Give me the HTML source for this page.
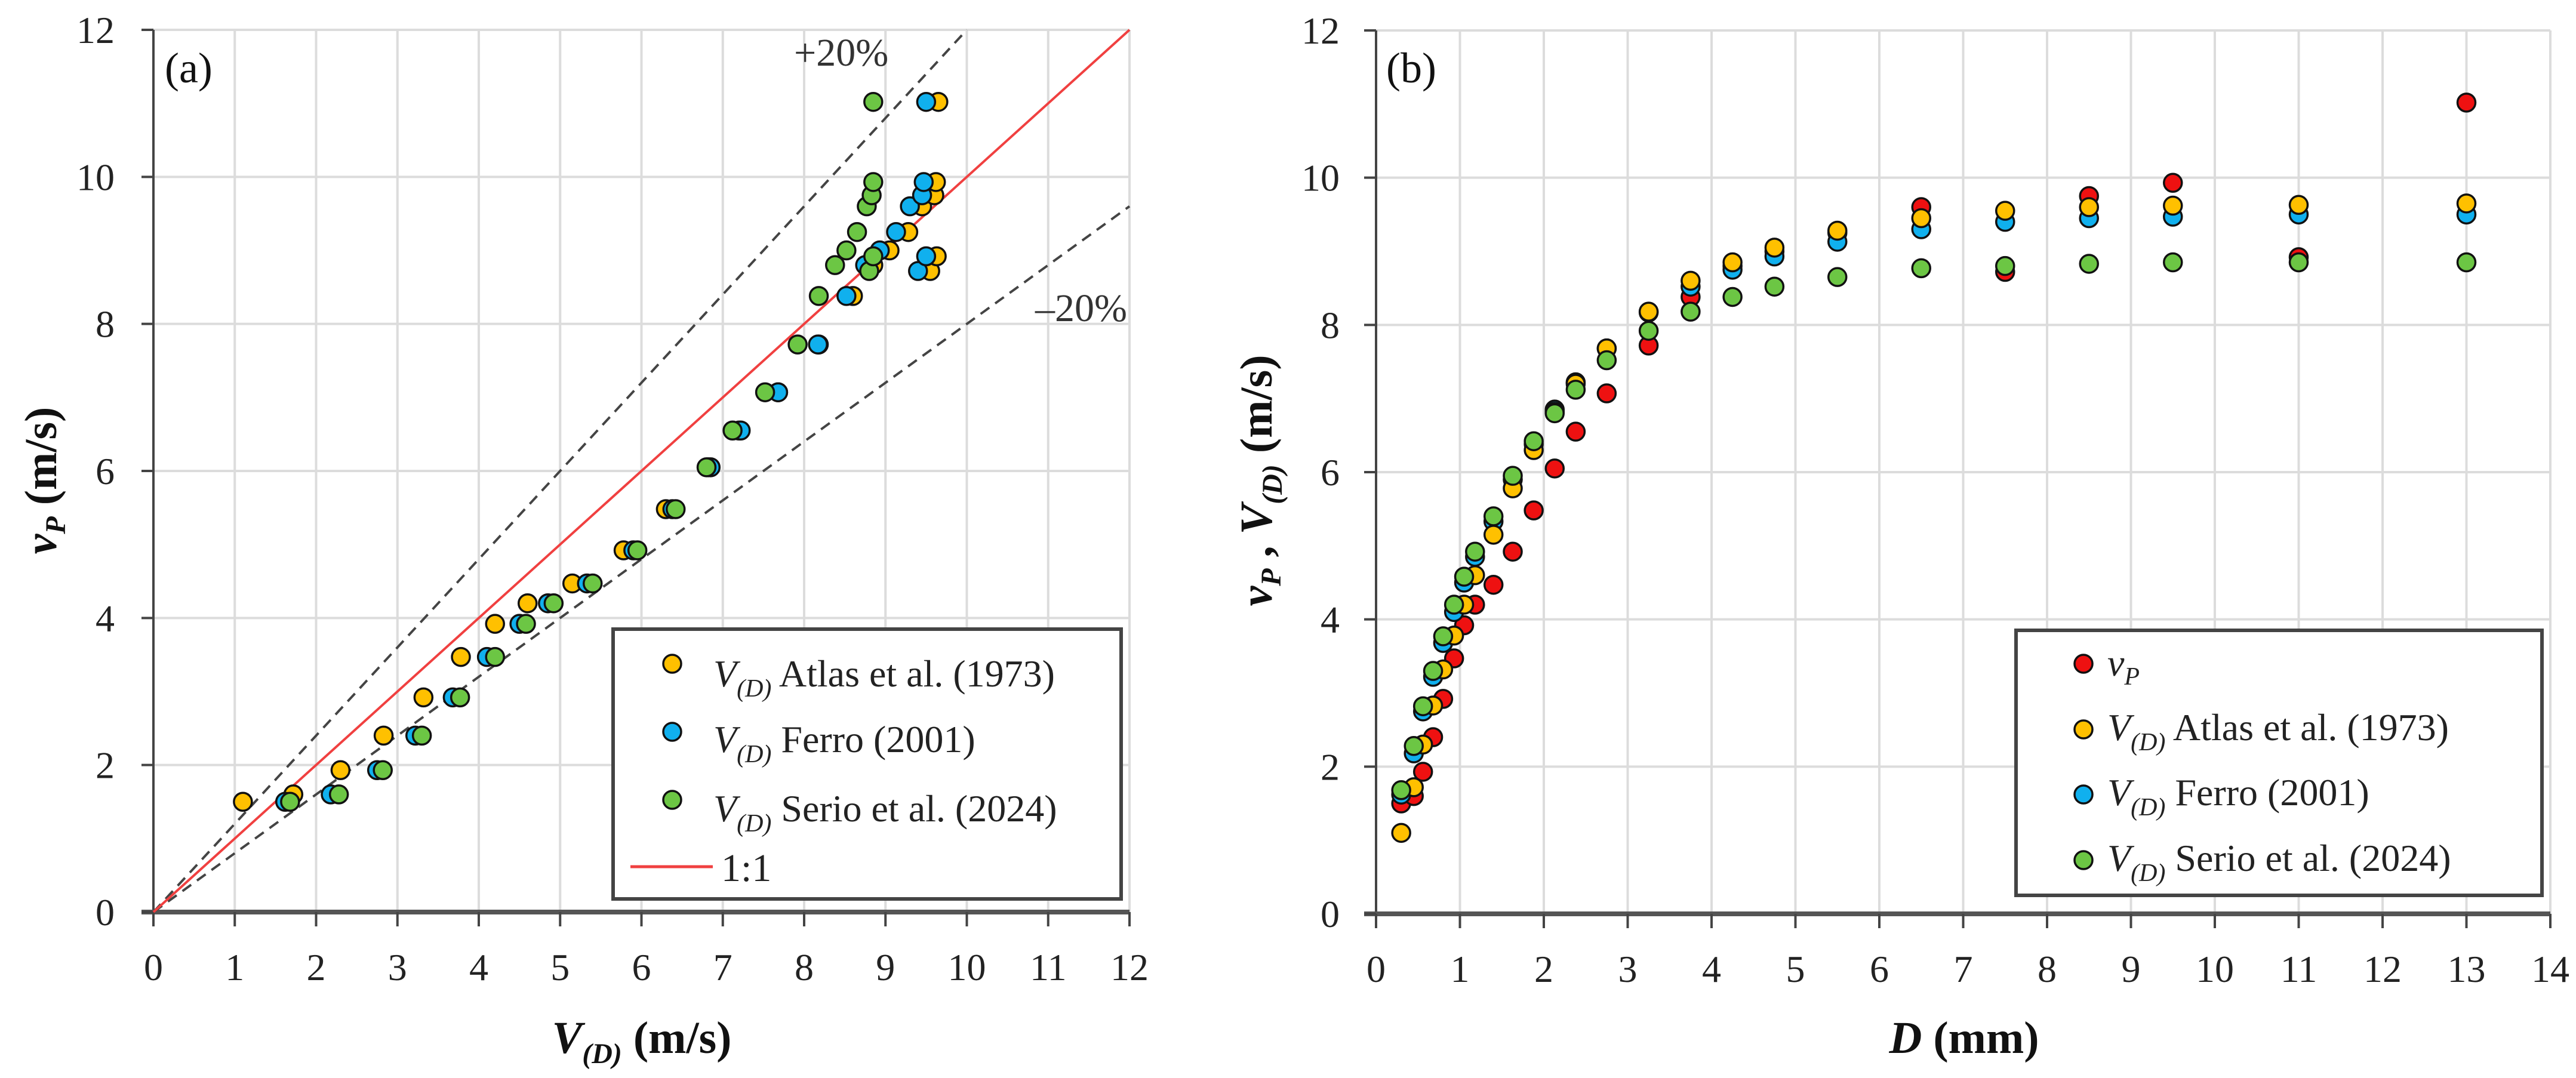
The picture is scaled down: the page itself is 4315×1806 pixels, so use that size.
<!DOCTYPE html>
<html><head><meta charset="utf-8"><style>
html,body{margin:0;padding:0;background:#fff}
svg{display:block;font-family:"Liberation Serif",serif}
</style></head><body>
<svg id="fig" width="4315" height="1806" viewBox="0 0 4315 1806" xmlns="http://www.w3.org/2000/svg">
<rect width="4315" height="1806" fill="#fff"/>
<g id="chartA"></g>
<g id="chartB"></g>
</svg>
<script>
const diameters=[0.3,0.45,0.56,0.68,0.8,0.93,1.05,1.18,1.4,1.63,1.88,2.13,2.38,2.75,3.25,3.75,4.25,4.75,5.5,6.5,7.5,8.5,9.5,11,13];
const vP=[1.5,1.6,1.93,2.4,2.92,3.47,3.92,4.2,4.47,4.92,5.48,6.05,6.55,7.07,7.72,8.38,8.8,9.0,9.25,9.6,8.72,9.75,9.93,8.92,11.02];
const atlas=[1.1,1.72,2.3,2.83,3.32,3.78,4.2,4.6,5.15,5.78,6.3,6.82,7.2,7.68,8.18,8.6,8.85,9.05,9.28,9.45,9.55,9.6,9.62,9.63,9.65];
const ferro=[1.62,2.18,2.75,3.22,3.68,4.1,4.5,4.85,5.33,5.9,6.38,6.85,7.22,7.68,8.17,8.52,8.75,8.93,9.13,9.3,9.4,9.45,9.47,9.5,9.5];
const serio=[1.68,2.28,2.82,3.3,3.77,4.2,4.58,4.92,5.4,5.95,6.42,6.8,7.12,7.52,7.92,8.18,8.38,8.52,8.65,8.77,8.8,8.83,8.85,8.85,8.85];
const ticksA_x=[0,1,2,3,4,5,6,7,8,9,10,11,12];
const ticksA_y=[0,2,4,6,8,10,12];
const ticksB_x=[0,1,2,3,4,5,6,7,8,9,10,11,12,13,14];
const ticksB_y=[0,2,4,6,8,10,12];
const bandFactors=[1.2,0.8];

const NS="http://www.w3.org/2000/svg";
const COL={red:"#ee1111",orange:"#ffc000",blue:"#10b0ee",green:"#6cc644"};
function mk(parent,tag,attrs,text){const e=document.createElementNS(NS,tag);for(const k in attrs)e.setAttribute(k,attrs[k]);if(text!==undefined)e.textContent=text;parent.appendChild(e);return e;}

function axes(g,x,y,xt,yt,xmax,ymax,lbl){
  xt.forEach(v=>{const l=mk(g,'line',{x1:x(v),x2:x(v),y1:y(0),y2:y(ymax),stroke:'#dcdcdc','stroke-width':4});
    
    });
  yt.forEach(v=>{const l=mk(g,'line',{x1:x(0),x2:x(xmax),y1:y(v),y2:y(v),stroke:'#dcdcdc','stroke-width':4});
    
    });
  const ya=mk(g,'line',{x1:x(0),x2:x(0),y1:y(0)+4,y2:y(ymax),stroke:'#444','stroke-width':4});
  
  
  const xa=mk(g,'line',{x1:x(0)-20,x2:x(xmax),y1:y(0),y2:y(0),stroke:'#555','stroke-width':8});
  
  
  xt.forEach(v=>{mk(g,'line',{x1:x(v),x2:x(v),y1:y(0),y2:y(0)+24,stroke:'#444','stroke-width':4});
    const t=mk(g,'text',{x:x(v),y:y(0)+114,'text-anchor':'middle','font-size':64,fill:'#222'},v);
    
    });
  yt.forEach(v=>{mk(g,'line',{x1:x(0)-20,x2:x(0),y1:y(v),y2:y(v),stroke:'#444','stroke-width':4});
    const t=mk(g,'text',{x:lbl,y:y(v)+22,'text-anchor':'end','font-size':64,fill:'#222'},v);
    
    });
}
function dot(g,cx,cy,c,name){const d=mk(g,'circle',{cx:cx,cy:cy,r:15,fill:c,stroke:'#111','stroke-width':3.5});
  
  return d;}

// Chart A
(function(){
const g=document.getElementById('chartA');
const X0=257,X1=1892,Y0=1528,Y1=50;
const x=v=>X0+(X1-X0)*v/12, y=v=>Y0-(Y0-Y1)*v/12;
axes(g,x,y,ticksA_x,ticksA_y,12,12,192);
bandFactors.forEach(f=>{let xe=12,ye=12*f;if(ye>12){ye=12;xe=12/f;}
  const l=mk(g,'line',{x1:x(0),y1:y(0),x2:x(xe),y2:y(ye),stroke:'#444','stroke-width':4,'stroke-dasharray':'18 12'});
  
  });
const one=mk(g,'line',{x1:x(0),y1:y(0),x2:x(12),y2:y(12),stroke:'#f04040','stroke-width':4});


const series=[[atlas,COL.orange,'atlas-point'],[ferro,COL.blue,'ferro-point'],[serio,COL.green,'serio-point']];
series.forEach(s=>s[0].forEach((v,i)=>dot(g,x(v),y(vP[i]),s[1],s[2])));
})();

// Chart B
(function(){
const g=document.getElementById('chartB');
const X0=2305,X1=4272,Y0=1531,Y1=51;
const x=v=>X0+(X1-X0)*v/14, y=v=>Y0-(Y0-Y1)*v/12;
axes(g,x,y,ticksB_x,ticksB_y,14,12,2244);
const series=[[vP,COL.red,'vp-point'],[ferro,COL.blue,'ferro-point'],[atlas,COL.orange,'atlas-point'],[serio,COL.green,'serio-point']];
series.forEach(s=>s[0].forEach((v,i)=>dot(g,x(diameters[i]),y(v),s[1],s[2])));
})();
</script>
<svg style="position:absolute;left:0;top:0" width="4315" height="1806" viewBox="0 0 4315 1806" xmlns="http://www.w3.org/2000/svg" font-family="Liberation Serif, serif">
<text x="276" y="138" font-size="72" fill="#111">(a)</text>
<text x="2322" y="138" font-size="72" fill="#111">(b)</text>
<text x="1330" y="110" font-size="66" fill="#333">+20%</text>
<text x="1888" y="538" font-size="66" fill="#333" text-anchor="end">–20%</text>
<text transform="translate(94,805) rotate(-90)" text-anchor="middle" font-size="76" font-weight="bold" fill="#111"><tspan font-style="italic">v</tspan><tspan font-size="48" font-style="italic" dy="15">P</tspan><tspan dy="-15"> (m/s)</tspan></text>
<text x="1075" y="1764" text-anchor="middle" font-size="76" font-weight="bold" fill="#111"><tspan font-style="italic">V</tspan><tspan font-size="48" font-style="italic" dy="17">(D)</tspan><tspan dy="-17"> (m/s)</tspan></text>
<text transform="translate(2130,805) rotate(-90)" text-anchor="middle" font-size="76" font-weight="bold" fill="#111"><tspan font-style="italic">v</tspan><tspan font-size="48" font-style="italic" dy="15">P</tspan><tspan dy="-15"> , </tspan><tspan font-style="italic">V</tspan><tspan font-size="48" font-style="italic" dy="17">(D)</tspan><tspan dy="-17"> (m/s)</tspan></text>
<text x="3290" y="1764" text-anchor="middle" font-size="76" font-weight="bold" fill="#111"><tspan font-style="italic">D</tspan> (mm)</text>
<g>
<rect x="1027" y="1054" width="851" height="452" fill="#fff" stroke="#444" stroke-width="6"/>
<g><circle cx="1126" cy="1112" r="15" fill="#ffc000" stroke="#111" stroke-width="3.5"/><text x="1195" y="1150" font-size="64" fill="#222"><tspan font-style="italic">V</tspan><tspan font-size="42" font-style="italic" dy="17">(D)</tspan><tspan dy="-17"> Atlas et al. (1973)</tspan></text></g>
<g><circle cx="1126" cy="1226" r="15" fill="#10b0ee" stroke="#111" stroke-width="3.5"/><text x="1195" y="1260" font-size="64" fill="#222"><tspan font-style="italic">V</tspan><tspan font-size="42" font-style="italic" dy="17">(D)</tspan><tspan dy="-17"> Ferro (2001)</tspan></text></g>
<g><circle cx="1126" cy="1340" r="15" fill="#6cc644" stroke="#111" stroke-width="3.5"/><text x="1195" y="1376" font-size="64" fill="#222"><tspan font-style="italic">V</tspan><tspan font-size="42" font-style="italic" dy="17">(D)</tspan><tspan dy="-17"> Serio et al. (2024)</tspan></text></g>
<g><line x1="1056" y1="1452" x2="1194" y2="1452" stroke="#f04040" stroke-width="5"/><text x="1208" y="1476" font-size="66" fill="#222">1:1</text></g>
</g>
<g>
<rect x="3377" y="1056" width="881" height="444" fill="#fff" stroke="#444" stroke-width="6"/>
<g><circle cx="3490" cy="1112" r="15" fill="#ee1111" stroke="#111" stroke-width="3.5"/><text x="3530" y="1132" font-size="64" fill="#222"><tspan font-style="italic">v</tspan><tspan font-size="42" font-style="italic" dy="15">P</tspan></text></g>
<g><circle cx="3490" cy="1222" r="15" fill="#ffc000" stroke="#111" stroke-width="3.5"/><text x="3530" y="1240" font-size="64" fill="#222"><tspan font-style="italic">V</tspan><tspan font-size="42" font-style="italic" dy="17">(D)</tspan><tspan dy="-17"> Atlas et al. (1973)</tspan></text></g>
<g><circle cx="3490" cy="1331" r="15" fill="#10b0ee" stroke="#111" stroke-width="3.5"/><text x="3530" y="1349" font-size="64" fill="#222"><tspan font-style="italic">V</tspan><tspan font-size="42" font-style="italic" dy="17">(D)</tspan><tspan dy="-17"> Ferro (2001)</tspan></text></g>
<g><circle cx="3490" cy="1441" r="15" fill="#6cc644" stroke="#111" stroke-width="3.5"/><text x="3530" y="1459" font-size="64" fill="#222"><tspan font-style="italic">V</tspan><tspan font-size="42" font-style="italic" dy="17">(D)</tspan><tspan dy="-17"> Serio et al. (2024)</tspan></text></g>
</g>
</svg>
</body></html>
